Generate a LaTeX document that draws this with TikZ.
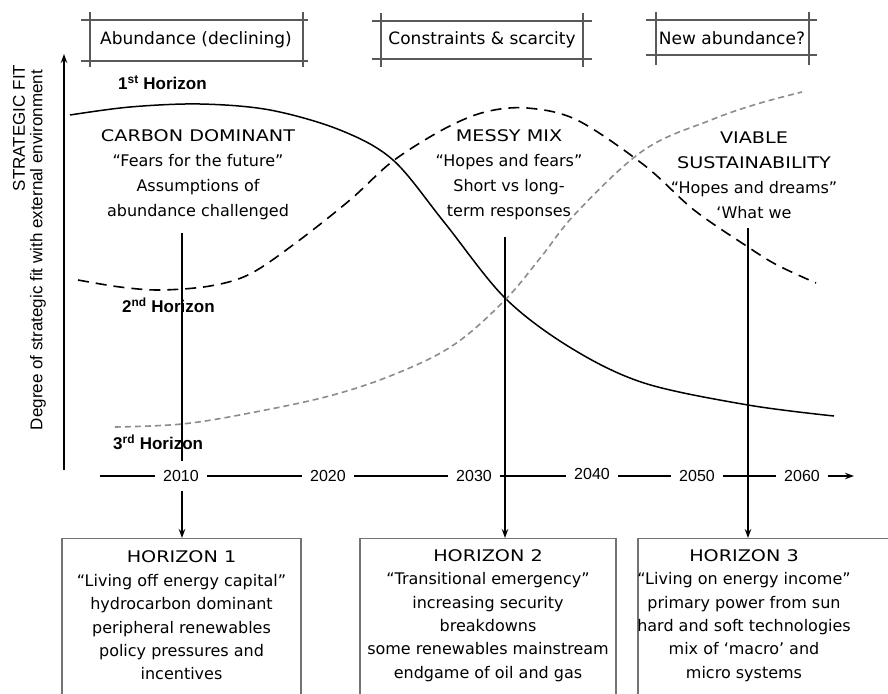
\documentclass[tikz,border=0pt]{standalone}
\usepackage{fontspec}
\setmainfont{Liberation Sans}
\newfontfamily\hand{DejaVu Sans}
\usetikzlibrary{arrows.meta}
\newcommand{\widecaps}[1]{\scalebox{1.2}[1]{#1}}
\begin{document}
\begin{tikzpicture}[x=1pt,y=-1pt,
  hw/.style={font=\hand\fontsize{16}{25}\selectfont, align=center, inner sep=0pt},
  hwb/.style={font=\hand\fontsize{16}{23.4}\selectfont, align=center, inner sep=0pt},
  hwt/.style={font=\hand\fontsize{17}{20}\selectfont, inner sep=0pt},
  hlab/.style={font=\fontsize{17}{20}\selectfont\bfseries, anchor=west, inner sep=0pt},
  yaxlab/.style={font=\fontsize{17}{20}\selectfont, rotate=90, inner sep=0pt},
  year/.style={font=\fontsize{16}{18}\selectfont, fill=white, inner xsep=8pt, inner ysep=9pt},
  frameline/.style={draw=black!65, line width=1.1pt},
  hbox/.style={draw=black!55, line width=1.2pt, inner sep=0pt},
  arr/.style={line width=1.3pt, -{Stealth[length=9pt,width=6.5pt]}},
  solidcurve/.style={line width=1.5pt},
  dashcurve/.style={line width=1.6pt, dash pattern=on 11pt off 7pt},
  greycurve/.style={line width=1.6pt, draw=black!45, dash pattern=on 6pt off 4pt}
]
\useasboundingbox (0,0) rectangle (888,693);
\clip (0,0) rectangle (888,693);

% top frames
\draw[frameline] (81,20) -- (308,20) (81,61) -- (308,61) (90,12) -- (90,67) (303,12) -- (303,67);
\node[hwt] (top1) at (196,40) {Abundance (declining)};
\draw[frameline] (372,21) -- (592,21) (372,59) -- (592,59) (381,13) -- (381,67) (583,13) -- (583,67);
\node[hwt] (top2) at (482,40) {Constraints \& scarcity};
\draw[frameline] (646,20) -- (817,20) (646,55) -- (817,55) (656,12) -- (656,65) (809,12) -- (809,65);
\node[hwt] (top3) at (732,38) {New abundance?};

% y axis
\coordinate (ya) at (64,470);
\coordinate (yb) at (64,54);
\draw[arr] (ya) -- (yb);
\node[yaxlab] (yl1) at (19,128) {STRATEGIC FIT};
\node[yaxlab] (yl2) at (38,250) {Degree of strategic fit with external environment};

% curves
\draw[solidcurve] plot[smooth, tension=0.55] coordinates {(70,115) (130,107) (200,104) (270,110) (340,130) (393,160) (444,222) (505,298) (571,348) (644,383) (748,405) (834,416)};
\draw[dashcurve] plot[smooth, tension=0.55] coordinates {(78,280) (120,287) (160,290) (210,286) (250,274) (297,242) (350,200) (393,161) (444,129) (485,112) (527,108) (577,120) (644,165) (694,210) (748,247) (777,265) (816,283)};
\draw[greycurve] plot[smooth, tension=0.6] coordinates {(115,427) (182,424) (250,413) (333,395) (400,372) (455,344) (505,300) (541,257) (577,212) (644,150) (711,120) (757,104) (802,92)};

% horizon labels
\node[hlab] (h1) at (118,83) {1\textsuperscript{st} Horizon};
\node[hlab] (h2) at (122,305) {2\textsuperscript{nd} Horizon};
\node[hlab] (h3) at (113,442) {3\textsuperscript{rd} Horizon};

% middle texts
\node[hw] (m1) at (198,175) {\widecaps{CARBON DOMINANT}\\“Fears for the future”\\Assumptions of\\abundance challenged};
\node[hw] (m2) at (509,175) {\widecaps{MESSY MIX}\\“Hopes and fears”\\Short vs long-\\term responses};
\node[hw] (m3) at (754,175) {\widecaps{VIABLE}\\\widecaps{SUSTAINABILITY}\\“Hopes and dreams”\\‘What we};

% bottom boxes
\node[hbox, minimum width=239, minimum height=200, anchor=north] (b1) at (181.5,538) {};
\node[hbox, minimum width=256, minimum height=200, anchor=north] (b2) at (488,538) {};
\node[hbox, minimum width=262, minimum height=200, anchor=north] (b3) at (769,538) {};
\node[hwb] (t1) at (181.5,615.5) {\widecaps{HORIZON 1}\\“Living off energy capital”\\hydrocarbon dominant\\peripheral renewables\\policy pressures and\\incentives};
\node[hwb] (t2) at (488,615.5) {\widecaps{HORIZON 2}\\“Transitional emergency”\\increasing security\\breakdowns\\some renewables mainstream\\endgame of oil and gas};
\node[hwb] (t3) at (744,615.5) {\widecaps{HORIZON 3}\\“Living on energy income”\\primary power from sun\\hard and soft technologies\\mix of ‘macro’ and\\micro systems};

% vertical arrows
\coordinate (v1) at (182,233);
\coordinate (v2) at (505,237);
\coordinate (v3) at (748,228);
\draw[arr] (v1) -- (v1 |- b1.north);
\draw[arr] (v2) -- (v2 |- b2.north);
\draw[arr] (v3) -- (v3 |- b3.north);

% time axis
\coordinate (ta) at (100,476);
\coordinate (tb) at (854,476);
\draw[arr] (ta) -- (tb);
\node[year] (y1) at (181,476) {2010};
\node[year] (y2) at (328,476) {2020};
\node[year] (y3) at (474,476) {2030};
\node[year] (y4) at (592,474) {2040};
\node[year] (y5) at (697,476) {2050};
\node[year] (y6) at (802,476) {2060};
\end{tikzpicture}
\end{document}
